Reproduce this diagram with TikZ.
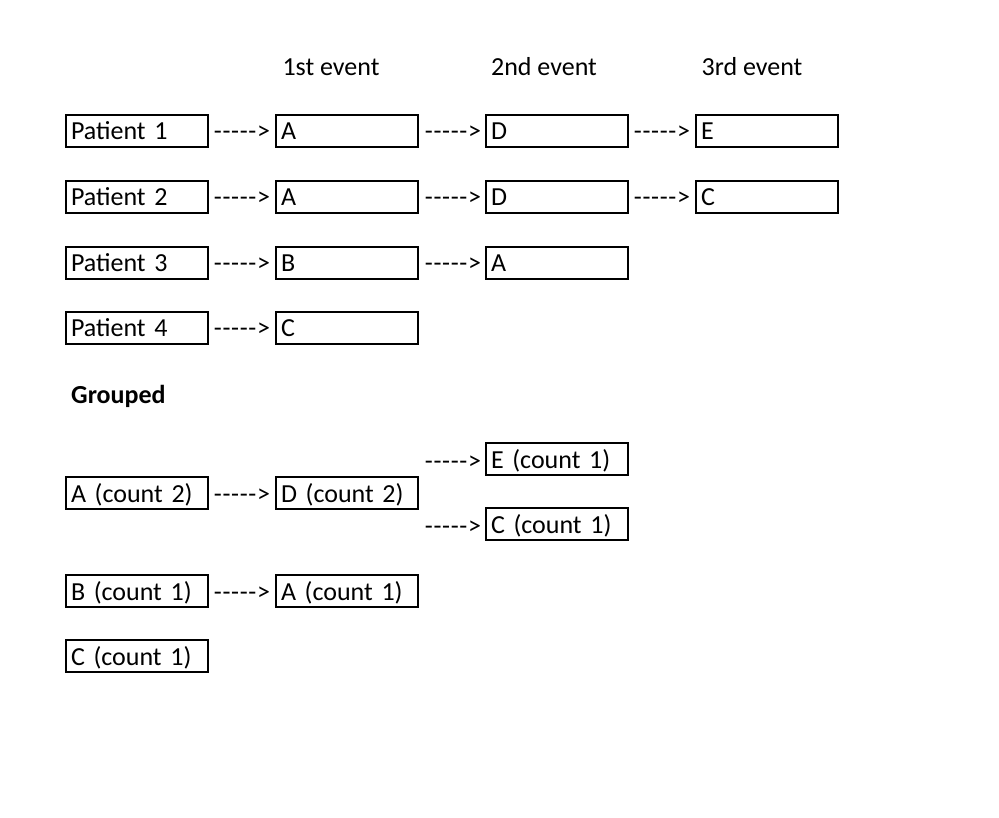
\documentclass[tikz,border=0pt]{standalone}
\usepackage{fontspec}
\setmainfont{Carlito}
\newcommand{\dsh}{-\kern0.7pt}
\newcommand{\darr}{\dsh\dsh\dsh\dsh\dsh>}
\begin{document}
\begin{tikzpicture}[x=1pt,y=-1pt,
  box/.style={draw=black,line width=1.6pt,rectangle,minimum height=32pt,
    text width=132pt,inner xsep=5pt,inner ysep=0pt,align=left,
    font=\fontsize{26}{30}\selectfont,text height=20pt,text depth=2pt},
  arr/.style={inner sep=0pt,font=\fontsize{26}{30}\selectfont,text height=20pt,text depth=2pt},
  hdr/.style={inner sep=0pt,anchor=base,font=\fontsize{26}{30}\selectfont}]
\useasboundingbox[fill=white] (0,0) rectangle (999,818);
% headers
\node[hdr] (h1) at (331,76) {1st event};
\node[hdr] (h2) at (544,76) {2nd event};
\node[hdr] (h3) at (752,76) {3rd event};
% row 1
\node[box] (p1) at (137,131) {Patient 1};
\node[box] (p1a) at (347,131) {A};
\node[box] (p1b) at (557,131) {D};
\node[box] (p1c) at (767,131) {E};
\node[arr] (a11) at (242,131) {\darr};
\node[arr] (a12) at (453,131) {\darr};
\node[arr] (a13) at (662,131) {\darr};
% row 2
\node[box] (p2) at (137,197) {Patient 2};
\node[box] (p2a) at (347,197) {A};
\node[box] (p2b) at (557,197) {D};
\node[box] (p2c) at (767,197) {C};
\node[arr] (a21) at (242,197) {\darr};
\node[arr] (a22) at (453,197) {\darr};
\node[arr] (a23) at (662,197) {\darr};
% row 3
\node[box] (p3) at (137,263) {Patient 3};
\node[box] (p3a) at (347,263) {B};
\node[box] (p3b) at (557,263) {A};
\node[arr] (a31) at (242,263) {\darr};
\node[arr] (a32) at (453,263) {\darr};
% row 4
\node[box] (p4) at (137,328) {Patient 4};
\node[box] (p4a) at (347,328) {C};
\node[arr] (a41) at (242,328) {\darr};
% grouped
\node[hdr,anchor=base west,font=\fontsize{26}{30}\selectfont\bfseries] (grp) at (71,403) {Grouped};
\node[box] (gA) at (137,493) {A (count 2)};
\node[box] (gD) at (347,493) {D (count 2)};
\node[box] (gE) at (557,459) {E (count 1)};
\node[box] (gC) at (557,524) {C (count 1)};
\node[arr] (ga1) at (242,493) {\darr};
\node[arr] (ga2) at (453,460) {\darr};
\node[arr] (ga3) at (453,525) {\darr};
\node[box] (gB) at (137,591) {B (count 1)};
\node[box] (gBA) at (347,591) {A (count 1)};
\node[arr] (gb1) at (242,591) {\darr};
\node[box] (gCC) at (137,656) {C (count 1)};
\end{tikzpicture}
\end{document}
